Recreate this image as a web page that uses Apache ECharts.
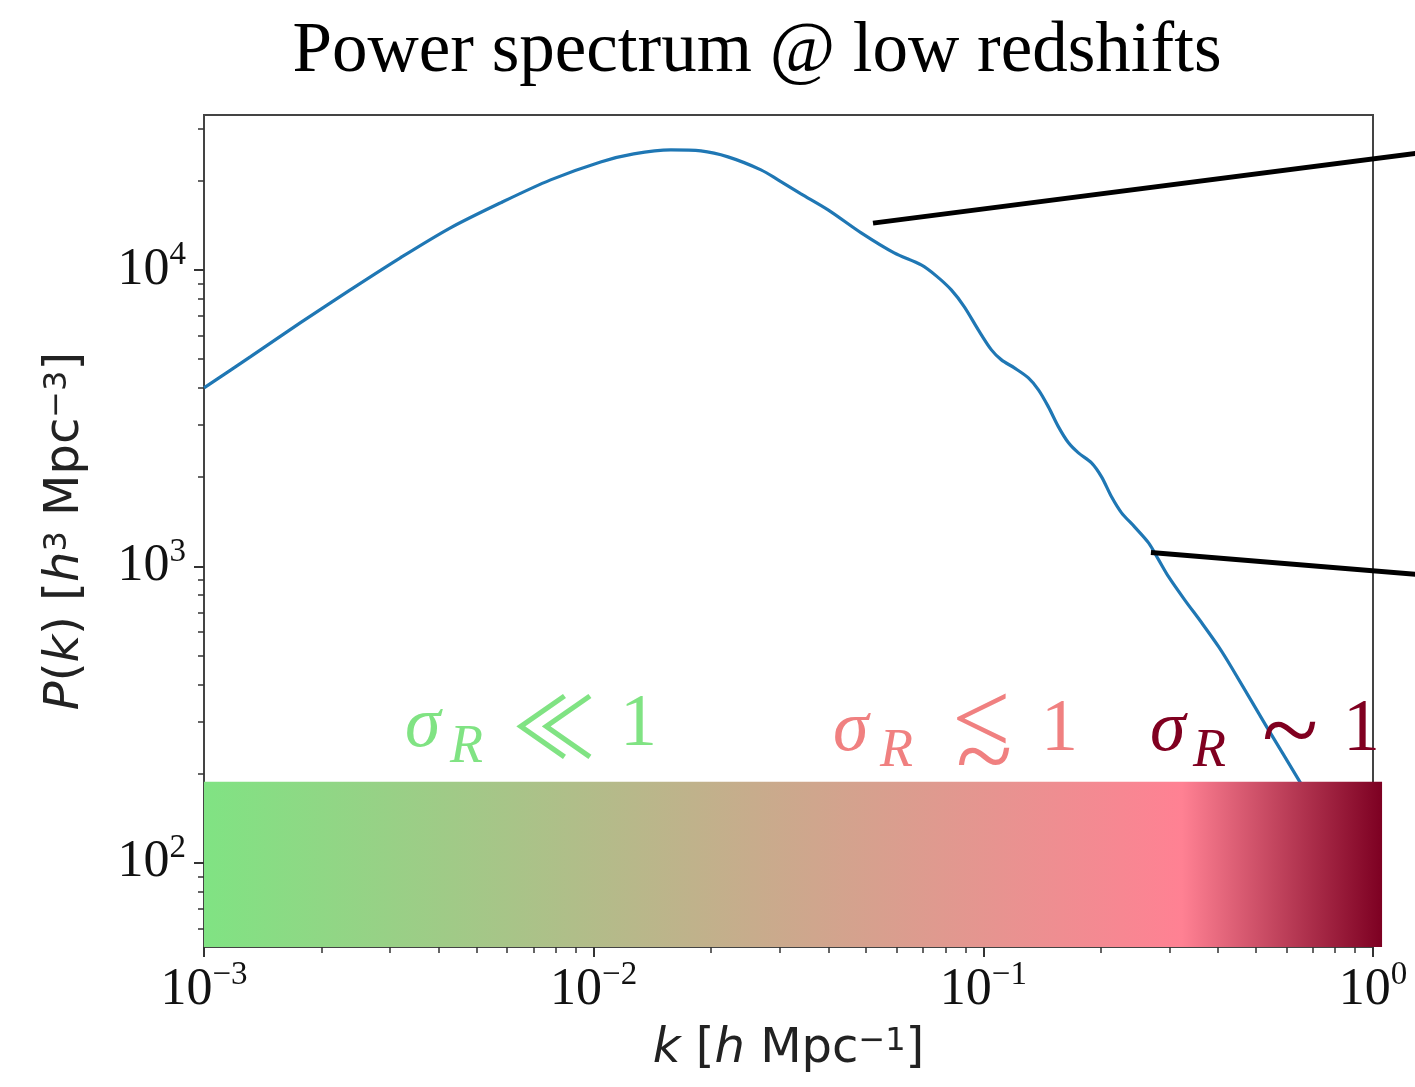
<!DOCTYPE html>
<html>
<head>
<meta charset="utf-8">
<script src="https://cdn.jsdelivr.net/npm/echarts@6.0.0/dist/echarts.min.js"></script>
<style>
  html, body { margin: 0; padding: 0; background: #fff; }
  #chart { width: 1415px; height: 1087px; }
</style>
</head>
<body>
<div id="chart"></div>
<script>
// wavenumber k [h/Mpc] and P(k) [h^-3 Mpc^3]
const kValues = [
  0.001, 0.001314, 0.001765, 0.002373, 0.00319, 0.00429, 0.005766, 0.007752,
  0.01042, 0.01267, 0.01578, 0.01884, 0.02211, 0.02687, 0.02972, 0.03404,
  0.03995, 0.04859, 0.05905, 0.06928, 0.0757, 0.08275, 0.08938, 0.09707,
  0.1049, 0.1113, 0.1201, 0.1305, 0.1385, 0.1469, 0.1559, 0.1654,
  0.1754, 0.1895, 0.2011, 0.2133, 0.2263, 0.2444, 0.2655, 0.2818,
  0.299, 0.3286, 0.3634, 0.4019, 0.434, 0.534, 0.6492, 1.0
]
const powerValues = [
  4000, 5088, 6626, 8560, 10980, 13860, 16830, 20120,
  23130, 24620, 25390, 25190, 24050, 21750, 20120, 18050,
  15940, 13330, 11410, 10390, 9545, 8560, 7504, 6275,
  5373, 4971, 4671, 4323, 3938, 3451, 2954, 2610,
  2414, 2234, 2004, 1716, 1515, 1359, 1200, 1052,
  921, 771, 645, 535, 455, 287, 187.6, 72.7
]

// axis ranges and tick exponents
const kRange = [0.001, 1]
const pRange = [52, 33300]
const xTickExponents = [-3, -2, -1, 0]
const yTickExponents = [2, 3, 4]

// pointer lines leaving the plot to the right: [k0, P0, k1, P1]
const upperPointer = [0.0521, 14380, 1.32, 24800]
const lowerPointer = [0.2692, 1113, 1.32, 938]

// sigma_R colour band
const bandK = [0.001, 1.055]
const bandP = [52, 187.5]
const bandColors = ['#80E383', '#FF8193', '#7D0022']
const bandStops = [0, 0.83, 1]

const log10 = Math.log10

// minor ticks at 2..9 x 10^n
function minorTicks(range) {
  const out = []
  for (let e = Math.floor(log10(range[0])); e <= Math.ceil(log10(range[1])); e++) {
    for (let m = 2; m <= 9; m++) {
      const v = log10(m) + e
      if (v >= log10(range[0]) && v <= log10(range[1])) out.push(v)
    }
  }
  return out
}

const tickColor = '#333'
const serif = "'Liberation Serif', 'DejaVu Serif', serif"
const sans = "'DejaVu Sans', sans-serif"
const cjk = "'Noto Sans CJK JP', 'DejaVu Sans', sans-serif"

const tickLabel = {
  fontFamily: serif,
  fontSize: 52,
  lineHeight: 62,
  color: '#111',
  formatter: v => '10{sup|' + String(v).replace('-', '\u2212') + '}',
  rich: {
    sup: { fontFamily: serif, fontSize: 33, verticalAlign: 'top', color: '#111', lineHeight: 33 }
  }
}

const nameStyle = {
  fontFamily: sans,
  fontSize: 48,
  color: '#222',
  rich: {
    it: { fontFamily: sans, fontSize: 48, fontStyle: 'italic', color: '#222' },
    sup: { fontFamily: sans, fontSize: 32, verticalAlign: 'top', color: '#222' }
  }
}

const chart = echarts.init(document.getElementById('chart'))

// pieces of the sigma_R labels above the band
function regimeLabel(color, parts) {
  return parts.map(p => ({
    type: 'text',
    x: p.x,
    y: p.y,
    z: 10,
    style: {
      text: p.text,
      fill: color,
      font: (p.italic ? 'italic ' : '') + p.size + 'px ' + (p.family || serif),
      verticalAlign: 'middle'
    }
  }))
}

const option = {
  backgroundColor: '#fff',
  animation: false,
  grid: {
    left: 204, right: 42, top: 115, bottom: 140,
    show: true, borderColor: '#444', borderWidth: 2, backgroundColor: 'transparent'
  },
  xAxis: [
    {
      type: 'value',
      min: log10(kRange[0]), max: log10(kRange[1]),
      name: '{it|k} [{it|h} Mpc{sup|\u22121}]',
      nameLocation: 'middle', nameGap: 74, nameTextStyle: nameStyle,
      axisLine: { show: true, onZero: false, lineStyle: { color: '#444', width: 2 } },
      axisTick: { show: true, inside: false, length: 10, customValues: xTickExponents, lineStyle: { color: tickColor, width: 2 } },
      axisLabel: Object.assign({ margin: 12, customValues: xTickExponents }, tickLabel),
      splitLine: { show: false }
    },
    {
      type: 'value', position: 'bottom',
      min: log10(kRange[0]), max: log10(kRange[1]),
      axisLine: { show: false, onZero: false },
      axisTick: { show: true, inside: false, length: 6, customValues: minorTicks(kRange), lineStyle: { color: tickColor, width: 1.5 } },
      axisLabel: { show: false },
      splitLine: { show: false }
    }
  ],
  yAxis: [
    {
      type: 'value',
      min: log10(pRange[0]), max: log10(pRange[1]),
      name: '{it|P}({it|k}) [{it|h}{sup|3} Mpc{sup|\u22123}]',
      nameLocation: 'middle', nameGap: 114, nameRotate: 90, nameTextStyle: nameStyle,
      axisLine: { show: true, onZero: false, lineStyle: { color: '#444', width: 2 } },
      axisTick: { show: true, inside: false, length: 10, customValues: yTickExponents, lineStyle: { color: tickColor, width: 2 } },
      axisLabel: Object.assign({ margin: 18, customValues: yTickExponents }, tickLabel),
      splitLine: { show: false }
    },
    {
      type: 'value', position: 'left',
      min: log10(pRange[0]), max: log10(pRange[1]),
      axisLine: { show: false, onZero: false },
      axisTick: { show: true, inside: false, length: 6, customValues: minorTicks(pRange), lineStyle: { color: tickColor, width: 1.5 } },
      axisLabel: { show: false },
      splitLine: { show: false }
    }
  ],
  series: [
    {
      name: 'P(k)',
      type: 'line',
      data: kValues.map((k, i) => [log10(k), log10(powerValues[i])]),
      showSymbol: false,
      smooth: 0.3,
      lineStyle: { color: '#1f77b4', width: 3.2 },
      z: 2
    },
    {
      type: 'custom',
      clip: false,
      z: 3,
      encode: { x: [0, 2], y: [1, 3] },
      data: [upperPointer, lowerPointer].map(p => p.map(log10)),
      renderItem: (params, api) => {
        const a = api.coord([api.value(0), api.value(1)])
        const b = api.coord([api.value(2), api.value(3)])
        return {
          type: 'line',
          shape: { x1: a[0], y1: a[1], x2: b[0], y2: b[1] },
          style: { stroke: '#000', lineWidth: 5 }
        }
      }
    },
    {
      type: 'custom',
      clip: false,
      z: 5,
      encode: { x: [0, 1], y: [2, 3] },
      data: [[log10(bandK[0]), log10(bandK[1]), log10(bandP[0]), log10(bandP[1])]],
      renderItem: (params, api) => {
        const p0 = api.coord([api.value(0), api.value(3)])
        const p1 = api.coord([api.value(1), api.value(2)])
        return {
          type: 'rect',
          shape: { x: p0[0], y: p0[1], width: p1[0] - p0[0], height: p1[1] - p0[1] },
          style: {
            fill: new echarts.graphic.LinearGradient(0, 0, 1, 0,
              bandStops.map((s, i) => ({ offset: s, color: bandColors[i] })))
          }
        }
      }
    }
  ],
  graphic: [
    {
      type: 'text', x: 757, y: 52,
      style: {
        text: 'Power spectrum @ low redshifts',
        font: '71px ' + serif, fill: '#000',
        align: 'center', verticalAlign: 'middle'
      }
    },
    ...regimeLabel('#80E383', [
      { text: 'σ', x: 405, y: 727, size: 72, italic: true },
      { text: 'R', x: 450, y: 748, size: 54, italic: true },
      { text: '≪', x: 512, y: 726, size: 84, family: cjk },
      { text: '1', x: 620, y: 726, size: 74 }
    ]),
    ...regimeLabel('#F08080', [
      { text: 'σ', x: 833, y: 731, size: 72, italic: true },
      { text: 'R', x: 880, y: 752, size: 54, italic: true },
      { text: '<', x: 952, y: 726, size: 104 },
      { text: '~', x: 956, y: 764, size: 104 },
      { text: '1', x: 1041, y: 731, size: 74 }
    ]),
    ...regimeLabel('#800020', [
      { text: 'σ', x: 1150, y: 731, size: 72, italic: true },
      { text: 'R', x: 1193, y: 752, size: 54, italic: true },
      { text: '~', x: 1262, y: 738, size: 104 },
      { text: '1', x: 1343, y: 731, size: 74 }
    ])
  ]
}

chart.setOption(option)
window.addEventListener('resize', () => chart.resize())
</script>
</body>
</html>
